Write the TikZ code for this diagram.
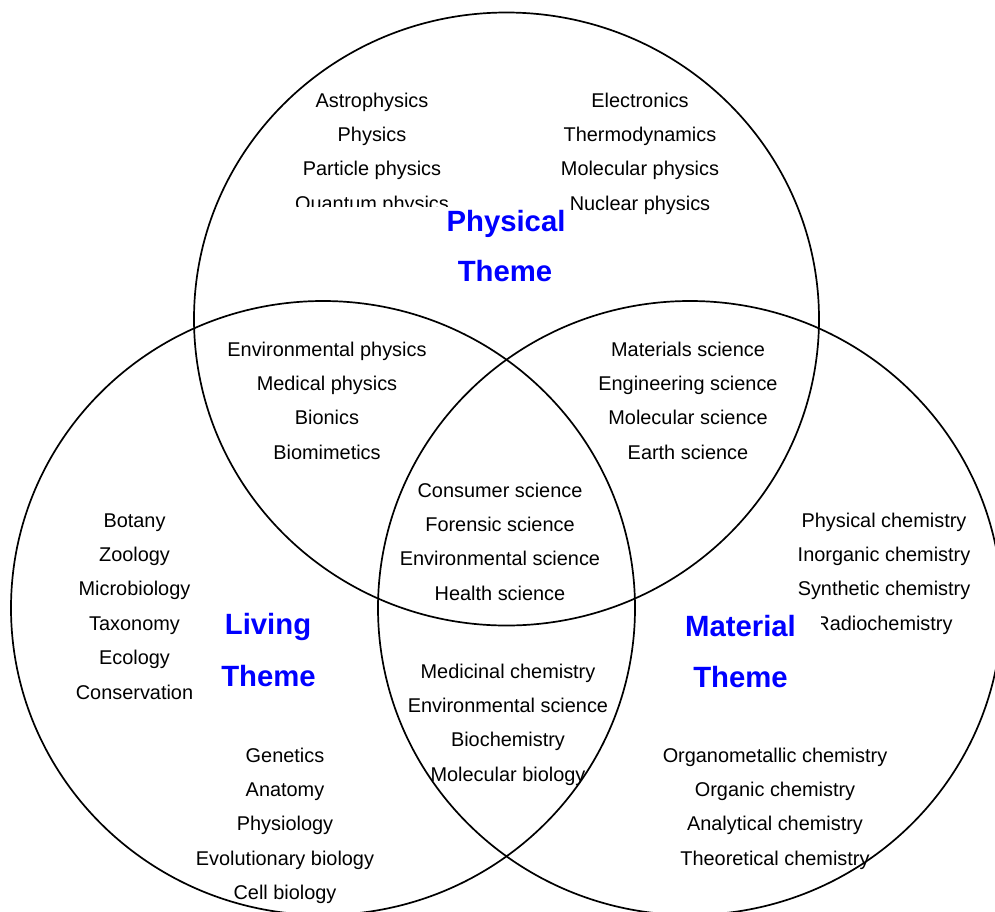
\documentclass[tikz,border=0pt]{standalone}
\usepackage{fontspec}
\setmainfont{Liberation Sans}
\definecolor{themeblue}{RGB}{0,0,255}
\begin{document}
\begin{tikzpicture}[x=1pt,y=-1pt,
  lab/.style={anchor=base,inner sep=0pt,font=\fontsize{19.9}{23}\selectfont},
  theme/.style={anchor=base,inner sep=0pt,text=themeblue,font=\fontsize{29.3}{34}\selectfont\bfseries},
  ring/.style={draw=black,line width=1.7pt}]
\useasboundingbox (0,0) rectangle (995,911);
\clip (0,0) rectangle (995,911);
\fill[white] (0,0) rectangle (995,911);
% Physical theme
\foreach \t [count=\i] in {Astrophysics,Physics,Particle physics,Quantum physics}
  \node[lab] (pl\i) at (372,{107+34.4*(\i-1)}) {\t};
\fill[white] (288,206.7) rectangle (562,296);
\node[theme] (physA) at (506,231.7) {Physical};
\node[theme] (physB) at (505,281.7) {Theme};
\foreach \t [count=\i] in {Electronics,Thermodynamics,Molecular physics,Nuclear physics}
  \node[lab] (pr\i) at (640,{107+34.4*(\i-1)}) {\t};
% Physical / Living
\foreach \t [count=\i] in {Environmental physics,Medical physics,Bionics,Biomimetics}
  \node[lab] (pli\i) at (327,{356+34.4*(\i-1)}) {\t};
% Physical / Material
\foreach \t [count=\i] in {Materials science,Engineering science,Molecular science,Earth science}
  \node[lab] (pma\i) at (688,{356+34.4*(\i-1)}) {\t};
% Centre
\foreach \t [count=\i] in {Consumer science,Forensic science,Environmental science,Health science}
  \node[lab] (c\i) at (500,{497+34.4*(\i-1)}) {\t};
% Living theme
\foreach \t [count=\i] in {Botany,Zoology,Microbiology,Taxonomy,Ecology,Conservation}
  \node[lab] (la\i) at (134.5,{527+34.4*(\i-1)}) {\t};
\node[theme] (livA) at (268,634) {Living};
\node[theme] (livB) at (268.5,686) {Theme};
\foreach \t [count=\i] in {Genetics,Anatomy,Physiology,Evolutionary biology,Cell biology}
  \node[lab] (lb\i) at (285,{762+34.4*(\i-1)}) {\t};
% Living / Material
\foreach \t [count=\i] in {Medicinal chemistry,Environmental science,Biochemistry,Molecular biology}
  \node[lab] (lm\i) at (508,{678+34.4*(\i-1)}) {\t};
% Material theme
\foreach \t [count=\i] in {Physical chemistry,Inorganic chemistry,Synthetic chemistry,Radiochemistry}
  \node[lab] (ma\i) at (884,{527+34.4*(\i-1)}) {\t};
\fill[white] (670,608) rectangle (821,700);
\node[theme] (matA) at (740.5,636) {Material};
\node[theme] (matB) at (740.5,687) {Theme};
\foreach \t [count=\i] in {Organometallic chemistry,Organic chemistry,Analytical chemistry,Theoretical chemistry}
  \node[lab] (mb\i) at (775,{762+34.4*(\i-1)}) {\t};
% circles
\draw[ring] (506.5,319) ellipse [x radius=312.5pt, y radius=306.5pt];
\draw[ring] (323,608) ellipse [x radius=312pt, y radius=307pt];
\draw[ring] (690,608) ellipse [x radius=312pt, y radius=307pt];
\end{tikzpicture}
\end{document}
